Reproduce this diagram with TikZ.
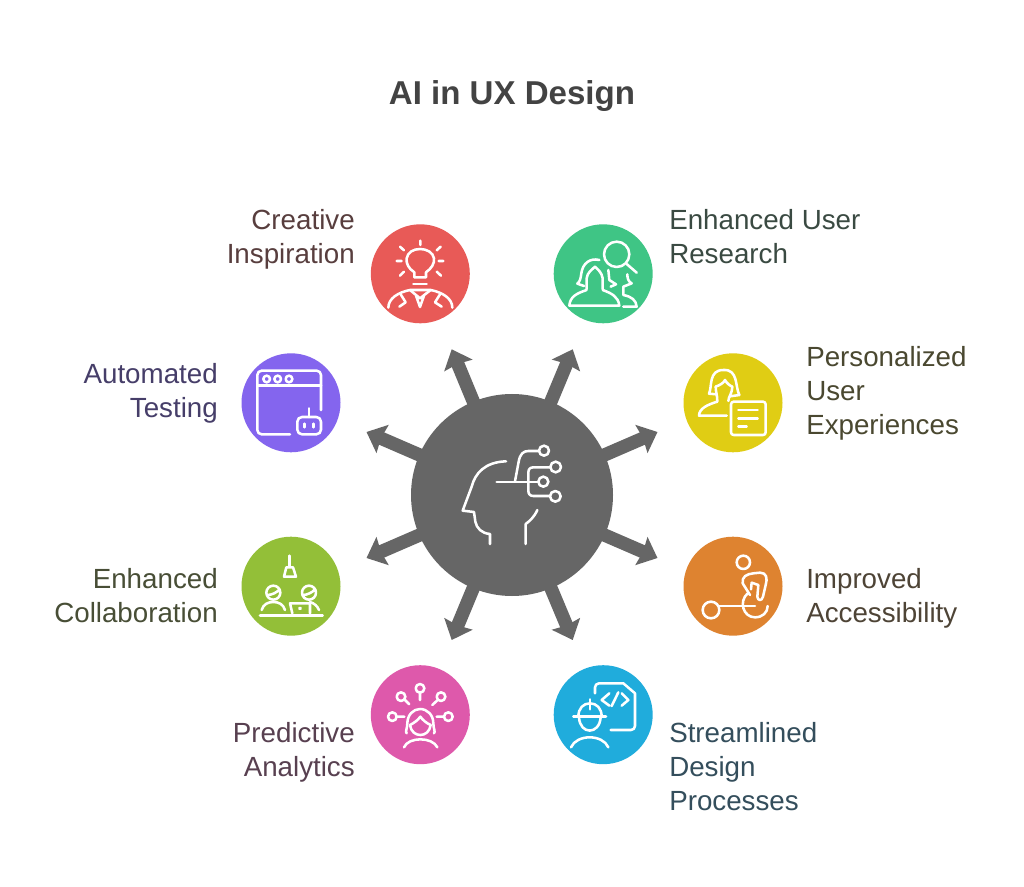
\documentclass[tikz,border=0pt]{standalone}
\usepackage{fontspec}
\setmainfont{Liberation Sans}
\usetikzlibrary{arrows.meta}
\definecolor{hubc}{HTML}{666666}
\definecolor{redc}{HTML}{E85A57}
\definecolor{greenc}{HTML}{3FC585}
\definecolor{purplec}{HTML}{8465EE}
\definecolor{yellowc}{HTML}{E0CD14}
\definecolor{limec}{HTML}{93BF38}
\definecolor{orangec}{HTML}{DE8330}
\definecolor{pinkc}{HTML}{DE59AB}
\definecolor{bluec}{HTML}{20ACDC}
\definecolor{titlec}{HTML}{434343}
\definecolor{tred}{HTML}{583E3E}
\definecolor{tgreen}{HTML}{3A4A42}
\definecolor{tpurple}{HTML}{463E69}
\definecolor{tyellow}{HTML}{4A4830}
\definecolor{tlime}{HTML}{484E36}
\definecolor{torange}{HTML}{4E4436}
\definecolor{tpink}{HTML}{584050}
\definecolor{tblue}{HTML}{344E5C}
\tikzset{
  disc/.style={circle,inner sep=0pt,minimum size=99*0.75pt,fill=#1},
  spoke/.style={draw=hubc,line width=10pt,-{Stealth[length=13pt,width=22.5pt,inset=1.2pt]}},
  lab/.style={inner sep=0pt,font=\fontsize{20.8}{25.5}\selectfont,text=#1},
  labr/.style={lab=#1,align=right,anchor=base east},
  labl/.style={lab=#1,align=left,anchor=base west},
  ic/.style={shift={(#1)},x=0.25pt,y=-0.25pt,draw=white,line width=1.9pt,line cap=round,line join=round}
}
\begin{document}
\begin{tikzpicture}[x=0.75pt,y=-0.75pt]
\useasboundingbox (0,0) rectangle (1024,887);
\fill[white] (0,0) rectangle (1024,887);
\node[inner sep=0pt,anchor=base,font=\fontsize{24.8}{30}\selectfont\bfseries,text=titlec] (title) at (512,105) {AI in UX Design};

\coordinate (t1) at (451.7,349.3);
\coordinate (t2) at (572.7,349.3);
\coordinate (t3) at (657.5,432);
\coordinate (t4) at (657.5,558);
\coordinate (t5) at (572.7,640);
\coordinate (t6) at (451.7,640);
\coordinate (t7) at (366.5,558);
\coordinate (t8) at (366.5,432);
\node[circle,inner sep=0pt,minimum size=202*0.75pt] (hubb) at (512,495) {};
\foreach \t in {t1,t2,t3,t4,t5,t6,t7,t8} \draw[spoke] (hubb.center) -- (\t);
\node[circle,inner sep=0pt,minimum size=202*0.75pt,fill=hubc] (hub) at (512,495) {};

\node[disc=redc] (c1) at (420.3,273.8) {};
\node[disc=greenc] (c2) at (603.2,273.8) {};
\node[disc=purplec] (c3) at (291,402.8) {};
\node[disc=yellowc] (c4) at (733,402.8) {};
\node[disc=limec] (c5) at (291,586.2) {};
\node[disc=orangec] (c6) at (733,586.2) {};
\node[disc=pinkc] (c7) at (420.3,714.7) {};
\node[disc=bluec] (c8) at (603.2,714.7) {};

\node[labr=tred] (l1) at (355,264) {Creative\\Inspiration};
\node[labl=tgreen] (l2) at (669,264) {Enhanced User\\Research};
\node[labr=tpurple] (l3) at (218,418) {Automated\\Testing};
\node[labl=tyellow] (l4) at (806,435) {Personalized\\User\\Experiences};
\node[labr=tlime] (l5) at (218,622) {Enhanced\\Collaboration};
\node[labl=torange] (l6) at (806,622) {Improved\\Accessibility};
\node[labr=tpink] (l7) at (355,776) {Predictive\\Analytics};
\node[labl=tblue] (l8) at (669,810) {Streamlined\\Design\\Processes};

% hub icon
\begin{scope}[ic={400,340}]
\draw (318,364) .. controls (255,366) and (225,400) .. (215,440) -- (188,512) -- (222,516) -- (226,545) .. controls (230,565) and (245,580) .. (270,582) -- (270,612);
\draw (412,510) .. controls (402,532) and (390,542) .. (377,552) -- (377,612);
\draw (290,426) -- (414,426);
\draw (430,425) circle[radius=15];
\draw (345,424) -- (356,365) .. controls (360,342) and (370,333) .. (385,333) -- (416,333);
\draw (432,332) circle[radius=15];
\draw (385,426) -- (385,398) .. controls (385,388) and (390,382) .. (400,382) -- (450,382);
\draw (467,381) circle[radius=16];
\draw (385,426) -- (385,452) .. controls (385,462) and (390,468) .. (400,468) -- (450,468);
\draw (466,469) circle[radius=16];
\end{scope}

% red icon
\begin{scope}[ic={360,215}]
\draw (163,187) -- (163,172) .. controls (145,160) and (138,145) .. (140,130) .. controls (143,112) and (160,102) .. (180,102) .. controls (200,102) and (219,112) .. (222,130) .. controls (224,145) and (215,160) .. (198,172) -- (198,187) -- cycle;
\draw (160,207) -- (200,207);
\draw (181,77) -- (181,90) (120,95) -- (132,106) (242,95) -- (230,106) (110,138) -- (125,138) (250,138) -- (236,138) (132,170) -- (120,182) (230,170) -- (243,182);
\draw (85,278) .. controls (85,250) and (115,232) .. (150,225) -- (212,225) .. controls (247,232) and (277,250) .. (277,278);
\draw (150,225) -- (180,250) -- (212,225) (168,242) -- (180,276) -- (192,242);
\draw (122,238) -- (137,262) -- (118,275) (240,238) -- (225,262) -- (245,275);
\end{scope}

% green icon
\begin{scope}[ic={360,215}]
\draw (770,118) circle[radius=38];
\draw (800,147) -- (830,173);
\draw (718,135) .. controls (690,128) and (668,145) .. (664,175) .. controls (662,190) and (660,200) .. (652,206) -- (672,213);
\draw (680,222) -- (680,190) .. controls (682,172) and (695,165) .. (705,155) .. controls (715,165) and (725,172) .. (728,190) -- (728,222);
\draw (628,272) .. controls (630,245) and (650,235) .. (680,225);
\draw (728,225) .. controls (755,235) and (775,245) .. (778,272) -- (628,272);
\draw (745,165) -- (748,195) -- (768,208) -- (752,215);
\draw (790,275) -- (830,275) .. controls (828,255) and (815,245) .. (790,240) -- (790,215) -- (815,205) .. controls (805,200) and (802,190) .. (802,178);
\end{scope}

% purple icon
\begin{scope}[ic={235,345}]
\draw (258,195) -- (258,90) arc[start angle=0,end angle=-90,radius=13] -- (80,77) arc[start angle=-90,end angle=-180,radius=13] -- (67,255) arc[start angle=180,end angle=90,radius=13] -- (165,268);
\draw (67,122) -- (258,122);
\draw (95,102) circle[radius=10] (128,102) circle[radius=10] (162,102) circle[radius=10];
\draw[rounded corners=3.5pt] (187,216) rectangle (258,268);
\draw (222,190) -- (222,216) (208,236) -- (208,247) (236,236) -- (236,247);
\end{scope}

% yellow icon
\begin{scope}[ic={675,345}]
\draw (125,148) -- (102,146) .. controls (112,125) and (100,75) .. (145,75) .. controls (190,72) and (180,125) .. (193,150) -- (165,154);
\draw (122,125) .. controls (135,120) and (145,115) .. (150,105) .. controls (155,115) and (165,122) .. (172,125) .. controls (172,145) and (160,155) .. (160,168);
\draw (122,125) .. controls (122,140) and (127,150) .. (127,170) .. controls (100,178) and (72,190) .. (72,212) -- (155,212);
\draw[rounded corners=2pt] (168,170) rectangle (272,270);
\draw (190,195) -- (248,195) (190,220) -- (248,220) (190,245) -- (215,245);
\end{scope}

% lime icon
\begin{scope}[ic={235,530}]
\draw (163,77) -- (163,110);
\draw (154,112) -- (174,112) -- (183,140) -- (147,140) -- cycle;
\draw (115,188) circle[radius=21] (97,195) .. controls (110,195) and (125,188) .. (134,178);
\draw (80,240) .. controls (85,222) and (100,216) .. (115,216) .. controls (130,216) and (145,222) .. (150,240);
\draw (222,188) circle[radius=21] (204,195) .. controls (215,195) and (232,188) .. (240,178);
\draw (225,216) .. controls (238,220) and (247,228) .. (252,240);
\draw (225,250) -- (225,220) -- (165,220) -- (172,250);
\draw[fill=white] (195,235) circle[radius=2];
\draw (75,256) -- (263,256);
\end{scope}

% orange icon
\begin{scope}[ic={675,530}]
\draw (205,97) circle[radius=20];
\draw (218,190) .. controls (190,215) and (205,262) .. (240,262) .. controls (262,262) and (278,248) .. (278,228);
\draw (108,240) circle[radius=25];
\draw (130,228) -- (240,228);
\draw (225,195) -- (203,160) .. controls (200,140) and (215,132) .. (235,130) -- (255,128) .. controls (275,128) and (278,145) .. (272,165) -- (264,200) .. controls (260,215) and (248,212) .. (247,200) -- (250,165) -- (230,158) -- (228,178);
\end{scope}

% pink icon
\begin{scope}[ic={360,660}]
\draw (180,85) circle[radius=13] (180,98) -- (180,120);
\draw (123,110) circle[radius=13] (133,118) -- (148,133);
\draw (243,110) circle[radius=13] (233,120) -- (217,135);
\draw (97,170) circle[radius=13] (112,170) -- (133,170);
\draw (265,170) circle[radius=13] (250,170) -- (230,170);
\draw (140,220) .. controls (135,215) and (142,205) .. (142,190) .. controls (142,165) and (160,147) .. (180,147) .. controls (202,147) and (220,165) .. (220,190) .. controls (220,205) and (227,215) .. (222,220);
\draw (150,195) .. controls (160,190) and (175,180) .. (181,170) .. controls (188,180) and (200,190) .. (212,195);
\draw (150,195) .. controls (155,235) and (207,235) .. (212,195);
\draw (132,262) .. controls (145,230) and (217,230) .. (232,262);
\end{scope}

% blue icon
\begin{scope}[ic={360,660}]
\draw (705,100) -- (705,82) arc[start angle=180,end angle=270,radius=12] -- (790,70) -- (825,100) -- (825,198) arc[start angle=0,end angle=90,radius=12] -- (752,210);
\draw (748,100) -- (725,120) -- (748,137) (755,138) -- (775,97) (785,100) -- (805,120) -- (785,137);
\draw (655,170) .. controls (655,145) and (670,130) .. (690,130) .. controls (710,130) and (725,145) .. (725,170);
\draw (690,118) -- (690,148) (640,170) -- (738,170);
\draw (657,172) .. controls (660,225) and (718,225) .. (722,172);
\draw (633,262) .. controls (650,222) and (728,222) .. (745,262);
\end{scope}
\end{tikzpicture}
\end{document}
